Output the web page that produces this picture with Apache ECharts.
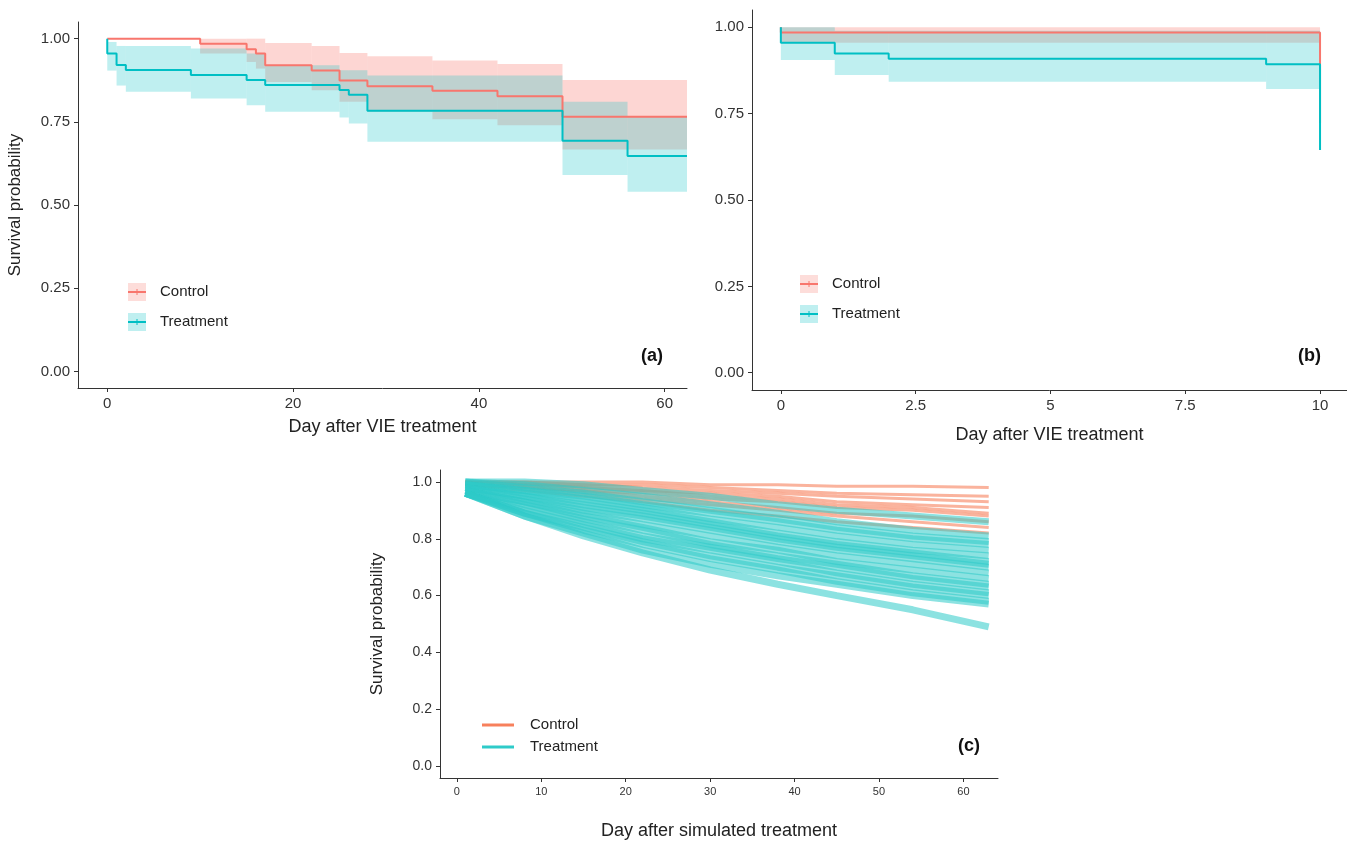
<!DOCTYPE html>
<html>
<head>
<meta charset="utf-8">
<script src="https://cdn.jsdelivr.net/npm/echarts@6/dist/echarts.min.js"></script>
<style>
  html, body { margin: 0; padding: 0; background: #fff; }
  #chart { width: 1347px; height: 841px; }
</style>
</head>
<body>
<div id="chart"></div>
<script>
// ---- panel (a): 63-day survival ----
const aCtrlDays = [0, 10, 15, 16, 17, 22, 25, 28, 35, 42, 49, 62.4];
const aCtrlSurv = [1, 0.985, 0.968, 0.955, 0.92, 0.904, 0.874, 0.857, 0.843, 0.827, 0.765, 0.765];
const aCtrlHigh = [1, 1, 1, 1, 0.987, 0.978, 0.957, 0.947, 0.934, 0.924, 0.876, 0.876];
const aCtrlLow  = [1, 0.955, 0.93, 0.91, 0.87, 0.845, 0.81, 0.78, 0.758, 0.74, 0.667, 0.667];

const aTrtDays = [0, 0, 1, 2, 9, 15, 17, 25, 26, 28, 49, 56, 62.4];
const aTrtSurv = [1, 0.955, 0.921, 0.906, 0.891, 0.876, 0.861, 0.846, 0.831, 0.783, 0.693, 0.647, 0.647];
const aTrtHigh = [1, 0.99, 0.978, 0.978, 0.97, 0.955, 0.92, 0.905, 0.905, 0.889, 0.81, 0.765, 0.765];
const aTrtLow  = [1, 0.904, 0.859, 0.84, 0.82, 0.80, 0.78, 0.763, 0.745, 0.69, 0.59, 0.54, 0.54];

// ---- panel (b): 10-day survival ----
const bCtrlDays = [0, 0, 10, 10];
const bCtrlSurv = [1, 0.985, 0.985, 0.723];
const bCtrlBandDays = [0, 10];
const bCtrlHigh = [1, 1];
const bCtrlLow  = [0.955, 0.955];

const bTrtDays = [0, 0, 1, 2, 9, 10, 10];
const bTrtSurv = [1, 0.955, 0.924, 0.909, 0.893, 0.893, 0.645];
const bTrtBandDays = [0, 1, 2, 9, 10];
const bTrtHigh = [1, 0.99, 0.99, 0.99, 0.99];
const bTrtLow  = [0.905, 0.862, 0.842, 0.821, 0.821];

// ---- panel (c): simulated curves, values at these days ----
const cDays = [1, 8, 15, 22, 30, 38, 45, 54, 63];
const cCtrlCurves = [
  [1.0, 1.0, 1.0, 1.0, 0.99, 0.99, 0.985, 0.985, 0.98],
  [1.0, 1.0, 0.99, 0.99, 0.98, 0.97, 0.96, 0.955, 0.95],
  [1.0, 0.99, 0.99, 0.98, 0.97, 0.96, 0.95, 0.94, 0.93],
  [1.0, 0.99, 0.98, 0.97, 0.96, 0.95, 0.93, 0.92, 0.91],
  [1.0, 0.99, 0.98, 0.97, 0.95, 0.94, 0.92, 0.91, 0.89],
  [0.99, 0.98, 0.97, 0.96, 0.94, 0.93, 0.91, 0.90, 0.88],
  [0.99, 0.98, 0.97, 0.95, 0.93, 0.91, 0.89, 0.88, 0.86],
  [0.99, 0.98, 0.96, 0.94, 0.92, 0.90, 0.88, 0.86, 0.84],
  [0.99, 0.97, 0.95, 0.93, 0.90, 0.88, 0.86, 0.84, 0.82]
];
const cTrtCurves = [
  [1.0, 1.0, 0.99, 0.97, 0.95, 0.92, 0.90, 0.88, 0.86],
  [1.0, 0.99, 0.97, 0.95, 0.92, 0.89, 0.86, 0.83, 0.81],
  [1.0, 0.98, 0.96, 0.93, 0.90, 0.87, 0.84, 0.81, 0.79],
  [0.99, 0.97, 0.95, 0.92, 0.89, 0.86, 0.83, 0.80, 0.78],
  [0.99, 0.97, 0.94, 0.91, 0.87, 0.84, 0.81, 0.78, 0.76],
  [0.99, 0.96, 0.93, 0.90, 0.86, 0.82, 0.79, 0.76, 0.74],
  [0.98, 0.95, 0.92, 0.89, 0.85, 0.81, 0.78, 0.75, 0.72],
  [0.98, 0.95, 0.91, 0.88, 0.84, 0.80, 0.77, 0.74, 0.71],
  [0.98, 0.94, 0.90, 0.87, 0.83, 0.79, 0.76, 0.73, 0.70],
  [0.97, 0.93, 0.89, 0.85, 0.81, 0.77, 0.74, 0.71, 0.68],
  [0.97, 0.93, 0.88, 0.84, 0.79, 0.76, 0.72, 0.69, 0.66],
  [0.97, 0.92, 0.87, 0.83, 0.78, 0.74, 0.71, 0.67, 0.64],
  [0.96, 0.91, 0.86, 0.81, 0.77, 0.73, 0.70, 0.66, 0.63],
  [0.96, 0.90, 0.85, 0.80, 0.76, 0.72, 0.68, 0.64, 0.61],
  [0.96, 0.89, 0.84, 0.79, 0.74, 0.70, 0.67, 0.63, 0.60],
  [0.96, 0.89, 0.83, 0.78, 0.73, 0.69, 0.65, 0.61, 0.58],
  [0.96, 0.88, 0.82, 0.76, 0.71, 0.67, 0.64, 0.60, 0.57],
  [0.96, 0.88, 0.81, 0.75, 0.69, 0.64, 0.60, 0.55, 0.49]
];

const abYTicks = [0, 0.25, 0.5, 0.75, 1];
const cYTicks = [0, 0.2, 0.4, 0.6, 0.8, 1];

const RED = "#F8766D", TEAL = "#00BFC4";
const C_RED = "#F7805C", C_TEAL = "#2ECBC9";
const FONT = "Liberation Sans, Arial, sans-serif";

const chart = echarts.init(document.getElementById("chart"));

const zip = (xs, ys) => xs.map((x, i) => [x, ys[i]]);

function stepLine(idx, name, days, surv, color) {
  return {
    type: "line", name, xAxisIndex: idx, yAxisIndex: idx,
    step: "end", showSymbol: false, data: zip(days, surv),
    lineStyle: { color, width: 2 }, z: 5, silent: true
  };
}

// confidence band: one rectangle per step interval
function band(idx, days, low, high, color) {
  const data = days.slice(0, -1).map((d, i) => [d, days[i + 1], low[i], high[i]]);
  return {
    type: "custom", xAxisIndex: idx, yAxisIndex: idx, silent: true, z: 2,
    data,
    renderItem: (params, api) => {
      const p1 = api.coord([api.value(0), api.value(3)]);
      const p2 = api.coord([api.value(1), api.value(2)]);
      return {
        type: "rect",
        shape: { x: p1[0], y: p1[1], width: p2[0] - p1[0], height: p2[1] - p1[1] },
        style: { fill: color }
      };
    }
  };
}

function simLines(idx, curves, color, opacity, width) {
  return curves.map(c => ({
    type: "line", xAxisIndex: idx, yAxisIndex: idx, showSymbol: false,
    data: zip(cDays, c), silent: true,
    lineStyle: { color, width, opacity }
  }));
}

const axisLine = { show: true, onZero: false, lineStyle: { color: "#333", width: 1 } };
const axisTick = { show: true, length: 4, lineStyle: { color: "#333" } };

function xAx(idx, min, max, ticks, fontSize, name, gap) {
  return {
    type: "value", gridIndex: idx, min, max,
    axisLine, splitLine: { show: false },
    axisTick: { ...axisTick, customValues: ticks },
    axisLabel: {
      color: "#333", fontSize, fontFamily: FONT, margin: 8,
      customValues: ticks, formatter: v => String(v)
    },
    name, nameLocation: "middle", nameGap: gap,
    nameTextStyle: { color: "#222", fontSize: 18, fontFamily: FONT }
  };
}
function yAx(idx, min, max, ticks, fontSize, digits, name) {
  return {
    type: "value", gridIndex: idx, min, max,
    axisLine, splitLine: { show: false },
    axisTick: { ...axisTick, customValues: ticks },
    axisLabel: {
      color: "#333", fontSize, fontFamily: FONT, margin: 8,
      customValues: ticks, formatter: v => v.toFixed(digits)
    },
    name, nameLocation: "middle", nameGap: 54, nameRotate: 90,
    nameTextStyle: { color: "#222", fontSize: 17, fontFamily: FONT }
  };
}

function legend(x, y, dy, withBand, lineLen) {
  const items = [["Control", withBand ? RED : C_RED], ["Treatment", withBand ? TEAL : C_TEAL]];
  const els = [];
  items.forEach(([label, col], i) => {
    const yy = y + i * dy;
    if (withBand) {
      els.push({ type: "rect", shape: { x, y: yy - 9, width: 18, height: 18 },
        style: { fill: echarts.color.modifyAlpha(col, 0.25) } });
      els.push({ type: "line", shape: { x1: x, y1: yy, x2: x + 18, y2: yy },
        style: { stroke: col, lineWidth: 2 } });
      els.push({ type: "line", shape: { x1: x + 9, y1: yy - 3, x2: x + 9, y2: yy + 3 },
        style: { stroke: col, lineWidth: 1 } });
    } else {
      els.push({ type: "line", shape: { x1: x, y1: yy, x2: x + lineLen, y2: yy },
        style: { stroke: col, lineWidth: 3 } });
    }
    els.push({ type: "text", x: x + (withBand ? 32 : lineLen + 16), y: yy,
      style: { text: label, fill: "#222", font: "15px " + FONT, verticalAlign: "middle" } });
  });
  return els;
}

function tag(txt, x, y) {
  return { type: "text", x, y, style: { text: txt, fill: "#111", font: "bold 18px " + FONT, verticalAlign: "middle" } };
}

chart.setOption({
  animation: false,
  grid: [
    { left: 78, top: 22, width: 609, height: 366 },
    { left: 752, top: 10, width: 596, height: 380 },
    { left: 440, top: 470, width: 558, height: 308 }
  ],
  xAxis: [
    xAx(0, -3.15, 62.4, [0, 20, 40, 60], 15, "Day after VIE treatment", 30),
    xAx(1, -0.535, 10.5, [0, 2.5, 5, 7.5, 10], 15, "Day after VIE treatment", 36),
    xAx(2, -2, 64.1, [0, 10, 20, 30, 40, 50, 60], 11, "Day after simulated treatment", 44)
  ],
  yAxis: [
    yAx(0, -0.05, 1.05, abYTicks, 15, 2, "Survival probability"),
    yAx(1, -0.05, 1.05, abYTicks, 15, 2, ""),
    yAx(2, -0.042, 1.042, cYTicks, 14, 1, "Survival probability")
  ],
  series: [
    band(0, aCtrlDays, aCtrlLow, aCtrlHigh, "rgba(248,118,109,0.3)"),
    band(0, aTrtDays, aTrtLow, aTrtHigh, "rgba(0,191,196,0.25)"),
    stepLine(0, "Control", aCtrlDays, aCtrlSurv, RED),
    stepLine(0, "Treatment", aTrtDays, aTrtSurv, TEAL),
    band(1, bCtrlBandDays, bCtrlLow, bCtrlHigh, "rgba(248,118,109,0.3)"),
    band(1, bTrtBandDays, bTrtLow, bTrtHigh, "rgba(0,191,196,0.25)"),
    stepLine(1, "Control", bCtrlDays, bCtrlSurv, RED),
    stepLine(1, "Treatment", bTrtDays, bTrtSurv, TEAL),
    ...simLines(2, cCtrlCurves, C_RED, 0.6, 3),
    ...simLines(2, cTrtCurves, C_TEAL, 0.55, 7)
  ],
  graphic: [
    ...legend(128, 292, 30, true),
    ...legend(800, 284, 30, true),
    ...legend(482, 725, 22, false, 32),
    tag("(a)", 641, 356),
    tag("(b)", 1298, 356),
    tag("(c)", 958, 746)
  ]
});
</script>
</body>
</html>
